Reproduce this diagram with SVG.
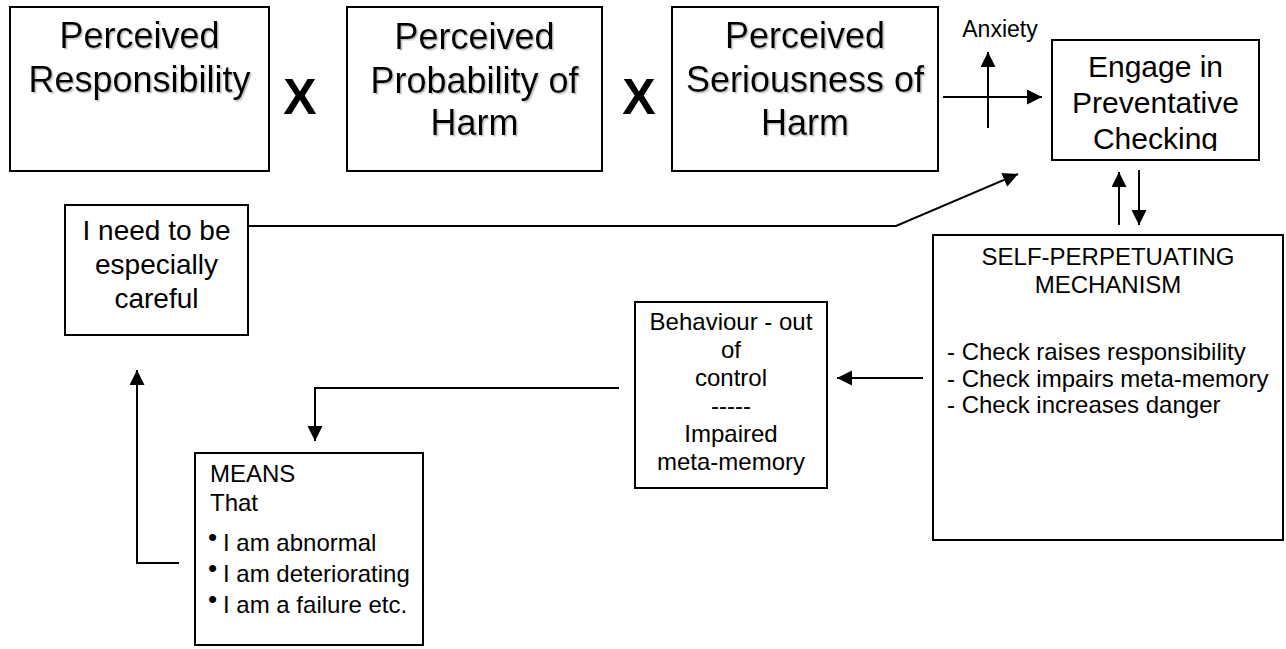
<svg xmlns="http://www.w3.org/2000/svg" width="1286" height="649" viewBox="0 0 1286 649">
<style>
  .box { fill: #ffffff; stroke: #000000; stroke-width: 2; }
  .t { font-family: "Liberation Sans", Arial, sans-serif; fill: #000000; }
  .big { font-size: 36px; text-anchor: middle; filter: url(#shadow); }
  .mid { text-anchor: middle; }
  .bul { font-size: 26px; }
  .conn { fill: none; stroke: #000000; stroke-width: 2; }
</style>
<defs>
  <filter id="shadow" x="-10%" y="-10%" width="130%" height="140%">
    <feDropShadow dx="1.5" dy="1.5" stdDeviation="0.6" flood-color="#999999" flood-opacity="0.6"/>
  </filter>
  <marker id="ah" markerUnits="userSpaceOnUse" markerWidth="16" markerHeight="16" refX="15" refY="7.5" orient="auto" viewBox="0 0 16 16">
    <path d="M0,0 L15,7.5 L0,15 z" fill="#000000"/>
  </marker>
  <clipPath id="engageClip"><rect x="1053" y="41" width="205" height="110"/></clipPath>
</defs>
<rect width="1286" height="649" fill="#ffffff"/>

<g id="responsibility">
  <rect class="box" x="10" y="7" width="259" height="164"/>
  <text class="t big" x="139.5" y="48">Perceived</text>
  <text class="t big" x="139.5" y="92">Responsibility</text>
</g>
<g id="times1">
  <text class="t mid" x="300" y="114" font-size="50" font-weight="bold">X</text>
</g>
<g id="probability">
  <rect class="box" x="347" y="7" width="255" height="164"/>
  <text class="t big" x="474.5" y="49">Perceived</text>
  <text class="t big" x="474.5" y="93">Probability of</text>
  <text class="t big" x="474.5" y="135">Harm</text>
</g>
<g id="times2">
  <text class="t mid" x="639" y="114" font-size="50" font-weight="bold">X</text>
</g>
<g id="seriousness">
  <rect class="box" x="672" y="7" width="266" height="164"/>
  <text class="t big" x="805" y="48">Perceived</text>
  <text class="t big" x="805" y="92">Seriousness of</text>
  <text class="t big" x="805" y="135">Harm</text>
</g>
<g id="anxiety">
  <text class="t mid" x="1000" y="37" font-size="23">Anxiety</text>
</g>
<g id="engage">
  <rect class="box" x="1052" y="40" width="207" height="120"/>
  <g clip-path="url(#engageClip)">
    <text class="t mid" x="1155.5" y="77" font-size="30">Engage in</text>
    <text class="t mid" x="1155.5" y="113" font-size="30">Preventative</text>
    <text class="t mid" x="1155.5" y="149" font-size="30">Checking</text>
  </g>
</g>
<g id="careful">
  <rect class="box" x="65" y="205" width="183" height="130"/>
  <text class="t mid" x="156.5" y="240" font-size="28">I need to be</text>
  <text class="t mid" x="156.5" y="274" font-size="28">especially</text>
  <text class="t mid" x="156.5" y="308" font-size="28">careful</text>
</g>
<g id="mechanism">
  <rect class="box" x="933" y="235" width="350" height="305"/>
  <text class="t mid" x="1108" y="265" font-size="24">SELF-PERPETUATING</text>
  <text class="t mid" x="1108" y="293" font-size="24">MECHANISM</text>
  <text class="t" x="947" y="360" font-size="24">- Check raises responsibility</text>
  <text class="t" x="947" y="387" font-size="24">- Check impairs meta-memory</text>
  <text class="t" x="947" y="413" font-size="24">- Check increases danger</text>
</g>
<g id="behaviour">
  <rect class="box" x="635" y="302" width="192" height="186"/>
  <text class="t mid" x="731" y="330" font-size="24">Behaviour - out</text>
  <text class="t mid" x="731" y="358" font-size="24">of</text>
  <text class="t mid" x="731" y="386" font-size="24">control</text>
  <text class="t mid" x="731" y="414" font-size="24">-----</text>
  <text class="t mid" x="731" y="442" font-size="24">Impaired</text>
  <text class="t mid" x="731" y="470" font-size="24">meta-memory</text>
</g>
<g id="means">
  <rect class="box" x="195" y="453" width="228" height="192"/>
  <text class="t" x="210" y="482" font-size="24">MEANS</text>
  <text class="t" x="210" y="511" font-size="24">That</text>
  <text class="t" x="208" y="551" font-size="24"><tspan class="bul" dy="-5">•</tspan><tspan x="223" dy="5">I am abnormal</tspan></text>
  <text class="t" x="208" y="582" font-size="24"><tspan class="bul" dy="-5">•</tspan><tspan x="223" dy="5">I am deteriorating</tspan></text>
  <text class="t" x="208" y="613" font-size="24"><tspan class="bul" dy="-5">•</tspan><tspan x="223" dy="5">I am a failure etc.</tspan></text>
</g>

<g id="connectors">
  <line class="conn" x1="988" y1="128" x2="988" y2="52" marker-end="url(#ah)"/>
  <line class="conn" x1="943" y1="97" x2="1042" y2="97" marker-end="url(#ah)"/>
  <line class="conn" x1="1119" y1="225" x2="1119" y2="172" marker-end="url(#ah)"/>
  <line class="conn" x1="1139" y1="170" x2="1139" y2="225" marker-end="url(#ah)"/>
  <path class="conn" d="M248,226 H896 L1018,174" marker-end="url(#ah)"/>
  <line class="conn" x1="923" y1="378" x2="837" y2="378" marker-end="url(#ah)"/>
  <path class="conn" d="M619,388 H315 V441" marker-end="url(#ah)"/>
  <path class="conn" d="M179,563 H137 V370" marker-end="url(#ah)"/>
</g>
</svg>
